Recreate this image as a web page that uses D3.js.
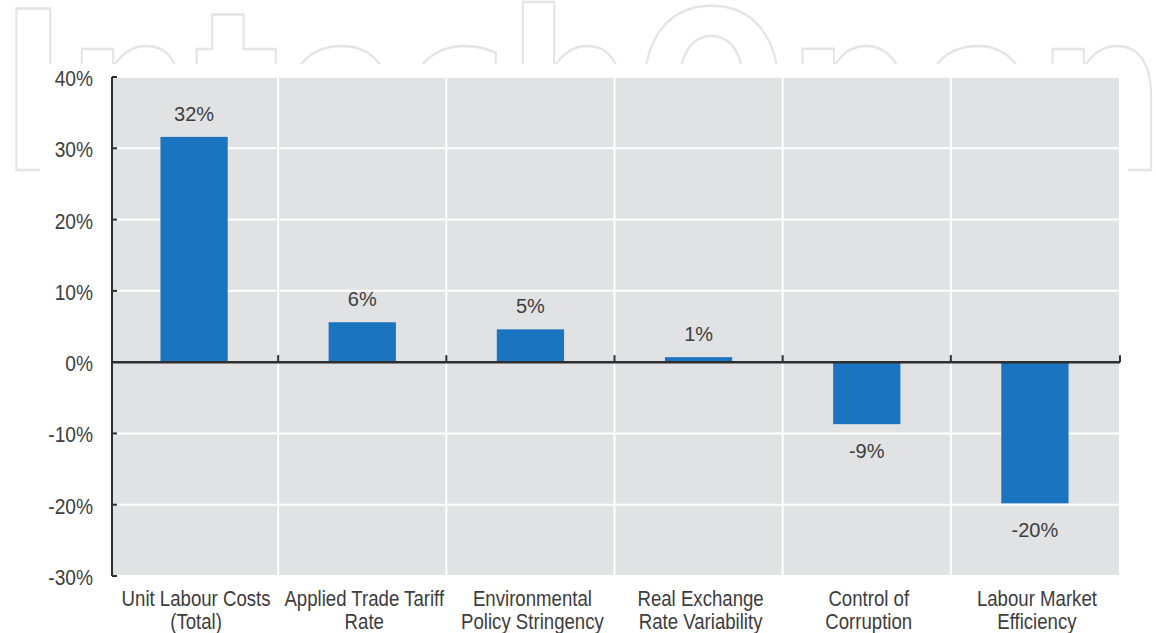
<!DOCTYPE html>
<html><head><meta charset="utf-8">
<script src="https://cdn.jsdelivr.net/npm/d3@7"></script>
<style>body{margin:0;background:#fff}svg{display:block}</style>
</head><body>
<svg id="c" width="1156" height="633"></svg>
<script>
const categories = ["Unit Labour Costs|(Total)", "Applied Trade Tariff|Rate", "Environmental|Policy Stringency", "Real Exchange|Rate Variability", "Control of|Corruption", "Labour Market|Efficiency"];
const values = [31.6, 5.6, 4.6, 0.7, -8.7, -19.8];
const valueLabels = ["32%", "6%", "5%", "1%", "-9%", "-20%"];
const yTicks = [-30, -20, -10, 0, 10, 20, 30, 40];
const watermark = "IntechOpen";

const svg = d3.select("#c");
const textColor = "#3d3d3d";
const font = "'Liberation Sans', Arial, sans-serif";

// watermark (behind the chart)
svg.append("text")
  .attr("x", 0).attr("y", 170)
  .attr("textLength", 1165).attr("lengthAdjust", "spacingAndGlyphs")
  .attr("font-family", "'DejaVu Sans', sans-serif").attr("font-weight", "bold")
  .attr("font-size", 222)
  .attr("fill", "#fff").attr("stroke", "#e4e4e4").attr("stroke-width", 2.5)
  .text(watermark);

// chart backdrop
svg.append("rect").attr("x", 40).attr("y", 64).attr("width", 1088).attr("height", 569).attr("fill", "#fff");

const y = d3.scaleLinear().domain([-30, 40]).range([576, 77]);
const cols = d3.scaleBand().domain(categories).range([110, 1119]);
const x = d3.scaleBand().domain(categories).range([110, 1119]).paddingInner(0.6).paddingOuter(0.3);

const axisX = 112;
// plot background
svg.append("rect").attr("x", axisX + 1).attr("y", y(40)).attr("width", cols.range()[1] - axisX - 1)
  .attr("height", y(-30) - y(40)).attr("fill", "#e1e2e4");

// gridlines
svg.append("g").selectAll("line").data(yTicks.filter(d => d !== 0)).join("line")
  .attr("x1", axisX).attr("x2", cols.range()[1])
  .attr("y1", d => y(d)).attr("y2", d => y(d))
  .attr("stroke", "#fff").attr("stroke-width", 2);

// column separators
svg.append("g").selectAll("line").data(categories.slice(1)).join("line")
  .attr("x1", d => cols(d)).attr("x2", d => cols(d))
  .attr("y1", y(40)).attr("y2", y(-30))
  .attr("stroke", "#fff").attr("stroke-width", 2);

// bars
svg.append("g").selectAll("rect").data(values).join("rect")
  .attr("x", (d, i) => x(categories[i]))
  .attr("width", x.bandwidth())
  .attr("y", d => y(Math.max(0, d)))
  .attr("height", d => Math.abs(y(d) - y(0)))
  .attr("fill", "#1a74bf");

// value labels
svg.append("g").selectAll("text").data(values).join("text")
  .attr("x", (d, i) => x(categories[i]) + x.bandwidth() / 2)
  .attr("y", d => d >= 0 ? y(d) - 16 : y(d) + 34)
  .attr("text-anchor", "middle")
  .attr("font-family", font).attr("font-size", 20).attr("fill", textColor)
  .text((d, i) => valueLabels[i]);

// y axis
const axisColor = "#2e2e2e";
const ax = svg.append("g");
ax.append("line").attr("x1", axisX).attr("x2", axisX).attr("y1", y(40)).attr("y2", y(-30))
  .attr("stroke", axisColor).attr("stroke-width", 2);
ax.selectAll("line.tick").data(yTicks.filter(d => d !== 0)).join("line").attr("class", "tick")
  .attr("x1", axisX).attr("x2", axisX + 5)
  .attr("y1", d => y(d)).attr("y2", d => y(d))
  .attr("stroke", axisColor).attr("stroke-width", 2);
ax.selectAll("text").data(yTicks).join("text")
  .attr("transform", d => `translate(93,${y(d) + 9}) scale(0.87,1)`)
  .attr("text-anchor", "end")
  .attr("font-family", font).attr("font-size", 22).attr("fill", textColor)
  .text(d => d + "%");

// zero line with ticks
const zx = svg.append("g");
zx.append("line").attr("x1", axisX).attr("x2", cols.range()[1] + 1).attr("y1", y(0)).attr("y2", y(0))
  .attr("stroke", axisColor).attr("stroke-width", 2.5);
zx.selectAll("line.tick").data(categories.slice(1).map(c => cols(c)).concat([cols.range()[1] + 1])).join("line").attr("class", "tick")
  .attr("x1", d => d).attr("x2", d => d)
  .attr("y1", y(0)).attr("y2", y(0) - 7)
  .attr("stroke", axisColor).attr("stroke-width", 2);

// category labels
const cl = svg.append("g");
categories.forEach(c => {
  const lines = c.split("|");
  lines.forEach((ln, j) => {
    cl.append("text")
      .attr("transform", `translate(${cols(c) + cols.bandwidth() / 2 + 2},${606 + j * 22.5}) scale(0.81,1)`)
      .attr("text-anchor", "middle")
      .attr("font-family", font).attr("font-size", 23).attr("fill", textColor)
      .text(ln);
  });
});
</script>
</body></html>
